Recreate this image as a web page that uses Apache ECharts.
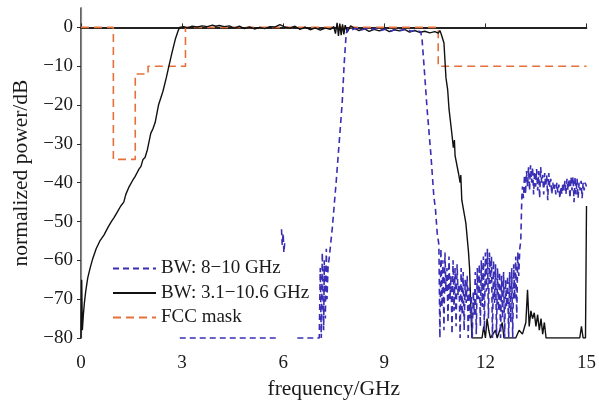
<!DOCTYPE html>
<html>
<head>
<meta charset="utf-8">
<title>UWB pulse spectra</title>
<script src="https://cdn.jsdelivr.net/npm/echarts@6/dist/echarts.min.js"></script>
<style>
  html, body { margin: 0; padding: 0; background: #fff; }
  #chart { width: 599px; height: 409px; }
</style>
</head>
<body>
<div id="chart"></div>
<script>
// FCC indoor emission mask (normalized)
const fccFreq  = [0, 0.96, 0.96, 1.61, 1.61, 1.99, 1.99, 3.1, 3.1, 10.6, 10.6, 15];
const fccLevel = [0, 0, -34, -34, -12, -12, -10, -10, 0, 0, -10, -10];

// Spectrum of the 3.1-10.6 GHz pulse
const wideFreq = [
  0, 0.02, 0.04, 0.07, 0.1, 0.14, 0.2, 0.27, 0.35, 0.45, 0.56, 0.68, 0.8, 0.9, 0.98,
  1.08, 1.18, 1.27, 1.33, 1.38, 1.43, 1.48, 1.54, 1.6, 1.66, 1.72, 1.78, 1.84, 1.9,
  1.97, 2.07, 2.14, 2.2, 2.3, 2.43, 2.53, 2.6, 2.7, 2.8, 2.87, 2.92,
  2.95, 3.05, 3.15, 3.3, 3.45, 3.6, 3.75, 3.9, 4.0, 4.1, 4.25, 4.4, 4.55, 4.7, 4.85,
  5.0, 5.15, 5.3, 5.45, 5.6, 5.75, 5.9, 6.05, 6.2, 6.35, 6.5, 6.65, 6.8, 6.95, 7.1,
  7.25, 7.4, 7.5, 7.55, 7.6, 7.64, 7.68, 7.72, 7.76, 7.8, 7.84, 7.9, 8.0, 8.1, 8.25,
  8.4, 8.55, 8.7, 8.85, 9.0, 9.15, 9.3, 9.45, 9.6, 9.75, 9.9, 10.05, 10.2, 10.35,
  10.5, 10.6, 10.65,
  10.7, 10.77, 10.83, 10.88, 10.92, 11.0, 11.05, 11.08, 11.1, 11.2, 11.25, 11.27,
  11.3, 11.42, 11.5, 11.53, 11.57, 11.6,
  11.9, 11.95, 12.0, 12.05, 12.1, 12.15, 12.3, 12.35, 12.4, 12.5, 12.55, 12.9, 13.0,
  13.1, 13.2, 13.25, 13.3, 13.35, 13.4, 13.45, 13.5, 13.55, 13.6, 13.65, 13.7, 13.75,
  13.8, 14.8, 14.85, 14.9, 14.97, 15
];
const wideLevel = [
  -80, -65, -78, -74, -71, -68, -64.5, -62, -59.5, -57, -55, -53.5, -51.5, -50, -49,
  -47.5, -46, -45, -43, -43.5, -41, -41.5, -39.3, -38.5, -37.5, -36.5, -35.8, -34, -33.5,
  -31.5, -27.3, -26, -24.5, -20, -16.5, -13, -10.3, -6.5, -3, -1.2, 0,
  0.0, 0.2, -0.1, 0.3, 0.1, 0.4, 0.2, 0.6, 0.3, 0.5, 0.2, 0.4, -0.2, 0.3, -0.3,
  0.1, -0.4, 0.0, -0.3, 0.2, 0.1, 0.7, 0.1, -0.2, 0.3, -0.5, 0.1, -0.6, -0.1, -0.7,
  -0.2, -0.5, 0.2, -1.6, 1.2, -2.2, 1.0, -2.0, 0.8, -1.8, 0.6, -1.2, 0.4, -0.2, -0.8,
  -0.3, -1.0, -0.5, -0.9, -0.4, -1.1, -0.6, -0.9, -0.5, -1.2, -0.8, -1.3, -1.0, -1.4,
  -1.1, -1.5, -0.8,
  -2, -4, -13, -16, -21, -27, -31, -29, -33, -37.5, -40, -38,
  -44.5, -50.4, -58, -62, -72.8, -80,
  -80, -77, -80, -75, -78, -80, -78, -80, -80, -76, -80, -80, -78,
  -79, -76, -67.6, -77, -73, -75, -73.5, -77, -74, -78, -75, -79, -76,
  -80, -80, -77, -80, -80, -46
];

// Spectrum of the 8-10 GHz pulse (null marks a gap in the trace)
const narrowFreq = [
  2.93, 5.85, null, 5.95, 5.97, 6.0, 6.02, 6.05, null, 6.42, 7.07,
  7.1, 7.13, 7.16, 7.2, 7.22, 7.25, 7.28, 7.3, 7.33, 7.37, 7.46, 7.57, 7.66, 7.75,
  7.81, 7.87, 7.92, 8.0, 8.15, 8.3, 8.45, 8.6, 8.75, 8.9, 9.05, 9.2, 9.35, 9.5,
  9.65, 9.8, 9.95, 10.08, 10.12, 10.18, 10.27, 10.38, 10.47, 10.52, 10.57, 10.62,
  10.65, 10.68, 10.71, 10.74, 10.77, 10.80, 10.83, 10.86, 10.89, 10.92, 10.95, 10.98,
  11.01, 11.04, 11.07, 11.10, 11.13, 11.16, 11.19, 11.22, 11.25, 11.28, 11.31, 11.34,
  11.37, 11.40, 11.43, 11.46, 11.49, 11.52, 11.55, 11.58, 11.61, 11.64, 11.67, 11.70,
  11.73, 11.76, 11.79, 11.82, 11.85, 11.88, 11.91, 11.94, 11.97, 12.00, 12.03, 12.06,
  12.09, 12.12, 12.15, 12.18, 12.21, 12.24, 12.27, 12.30, 12.33, 12.36, 12.39, 12.42,
  12.45, 12.48, 12.51, 12.54, 12.57, 12.60, 12.63, 12.66, 12.69, 12.72, 12.75, 12.78,
  12.81, 12.84, 12.87, 12.90, 12.93, 12.96, 12.99, 13.02, 13.05, 13.08, 13.1,
  13.13, 13.16, 13.19, 13.22, 13.25, 13.28, 13.31, 13.34, 13.37, 13.40, 13.43, 13.46,
  13.49, 13.52, 13.55, 13.58, 13.61, 13.64, 13.67, 13.70, 13.73, 13.76, 13.79, 13.82,
  13.85, 13.88, 13.91, 13.94, 13.97, 14.00, 14.03, 14.06, 14.09, 14.12, 14.15, 14.18,
  14.21, 14.24, 14.27, 14.30, 14.33, 14.36, 14.39, 14.42, 14.45, 14.48, 14.51, 14.54,
  14.57, 14.60, 14.63, 14.66, 14.69, 14.72, 14.75, 14.78, 14.81, 14.84, 14.87, 14.90,
  14.93, 14.96, 15.0
];
const narrowLevel = [
  -80, -80, null, -52, -56, -53, -58, -55, null, -80, -80,
  -62, -80, -58, -78, -60, -75, -57, -70, -62, -59, -51.4, -40, -29.8, -19.5,
  -9.3, -1.5, -0.3, -0.8, -0.2, -0.7, -0.3, -0.6, -0.2, -0.8, -0.4, -0.9, -0.5, -0.8,
  -0.4, -1.0, -0.7, -1.2, -3, -10, -21, -32.5, -43.5, -47, -53, -56,
  -80, -57, -72, -60, -78, -58, -68, -62, -76, -59, -70, -64,
  -79, -60, -73, -62, -77, -61, -69, -66, -80, -62, -74, -63,
  -78, -65, -71, -64, -80, -67, -75, -69, -80, -68, -74, -63,
  -79, -62, -70, -61, -77, -60, -72, -59, -78, -58, -68, -57,
  -75, -58, -66, -59, -80, -60, -71, -61, -79, -62, -73, -63,
  -80, -64, -75, -63, -80, -65, -72, -64, -80, -63, -76, -62,
  -80, -61, -70, -59, -75, -58, -64, -57, -55, -44, -41,
  -44, -38, -43, -37, -41, -36, -42, -35.5, -40, -36, -43, -37,
  -41, -36.5, -42, -37, -44, -36, -40, -38, -43, -37.5, -41, -38,
  -44.5, -37.5, -41, -39, -43, -40, -42, -40.5, -43, -40, -42.5, -40.5,
  -44, -41, -43, -40, -42, -39.5, -43, -39, -42, -39, -44, -38.5,
  -42, -38.5, -45, -38.5, -43, -39, -44, -40, -42, -39.5, -44, -40,
  -42, -40, -41
];

// Axis ticks
const xTicks = [0, 3, 6, 9, 12, 15];
const yTicks = [-80, -70, -60, -50, -40, -30, -20, -10, 0];

const zip = (xs, ys) => xs.map((x, i) => (x === null ? null : [x, ys[i]]));

const serif = "'Liberation Serif', 'Times New Roman', serif";
const tickText = { fontFamily: serif, fontSize: 19, color: '#1a1a1a' };
const legendText = { fontFamily: serif, fontSize: 19, color: '#1a1a1a' };
const titleText = { fontFamily: serif, fontSize: 21.5, color: '#1a1a1a' };
const minus = v => String(v).replace('-', '\u2212');

const chart = echarts.init(document.getElementById('chart'), null, { renderer: 'canvas' });
chart.setOption({
  backgroundColor: '#fff',
  animation: false,
  grid: { left: 81, right: 11, top: 8, bottom: 71, containLabel: false },
  legend: {
    orient: 'vertical',
    left: 112,
    top: 259,
    itemWidth: 43,
    itemHeight: 14,
    itemGap: 5.5,
    padding: 0,
    itemStyle: { color: 'rgba(0,0,0,0)', borderWidth: 0, opacity: 0 },
    textStyle: legendText,
    data: ['BW: 8\u221210 GHz', 'BW: 3.1\u221210.6 GHz', 'FCC mask']
  },
  xAxis: [{
    type: 'value',
    min: 0, max: 15, interval: 3,
    name: 'frequency/GHz',
    nameLocation: 'middle',
    nameGap: 36,
    nameTextStyle: titleText,
    axisLine: { lineStyle: { color: '#2a2a2a', width: 1.5 } },
    axisTick: { show: true, inside: true, length: 4, customValues: xTicks, lineStyle: { color: '#2a2a2a' } },
    axisLabel: { margin: 16, customValues: xTicks, ...tickText },
    splitLine: { show: false }
  }, {
    type: 'value',
    position: 'top',
    min: 0, max: 15,
    axisLine: { show: true, lineStyle: { color: '#111', width: 1.5 } },
    axisTick: { show: false },
    axisLabel: { show: false },
    splitLine: { show: false }
  }],
  yAxis: [{
    type: 'value',
    min: -80, max: 5, interval: 10,
    name: 'normalized power/dB',
    nameLocation: 'middle',
    nameGap: 48,
    nameRotate: 90,
    nameTextStyle: titleText,
    axisLine: { show: true, lineStyle: { color: '#2a2a2a', width: 1.5 } },
    axisTick: { show: true, length: 4, customValues: yTicks, lineStyle: { color: '#2a2a2a' } },
    axisLabel: { margin: 8, customValues: yTicks, formatter: minus, ...tickText },
    splitLine: { show: false }
  }, {
    type: 'value',
    position: 'right',
    min: -80, max: 5,
    axisLine: { show: true, lineStyle: { color: '#8a8a8a', width: 1.2 } },
    axisTick: { show: false },
    axisLabel: { show: false },
    splitLine: { show: false }
  }],
  series: [{
    name: 'BW: 8\u221210 GHz',
    type: 'line',
    data: zip(narrowFreq, narrowLevel),
    showSymbol: false, symbol: 'none',
    connectNulls: false,
    clip: false,
    z: 4,
    lineStyle: { color: '#3a2fb4', width: 1.6, type: [6, 4] },
    itemStyle: { color: '#3a2fb4' }
  }, {
    name: 'BW: 3.1\u221210.6 GHz',
    type: 'line',
    data: zip(wideFreq, wideLevel),
    showSymbol: false, symbol: 'none',
    z: 3,
    lineStyle: { color: '#111', width: 1.4 },
    itemStyle: { color: '#111' }
  }, {
    name: 'FCC mask',
    type: 'line',
    data: zip(fccFreq, fccLevel),
    showSymbol: false, symbol: 'none',
    z: 2,
    lineStyle: { color: '#e5703a', width: 1.6, type: [8, 5] },
    itemStyle: { color: '#e5703a' }
  }]
});
</script>
</body>
</html>
